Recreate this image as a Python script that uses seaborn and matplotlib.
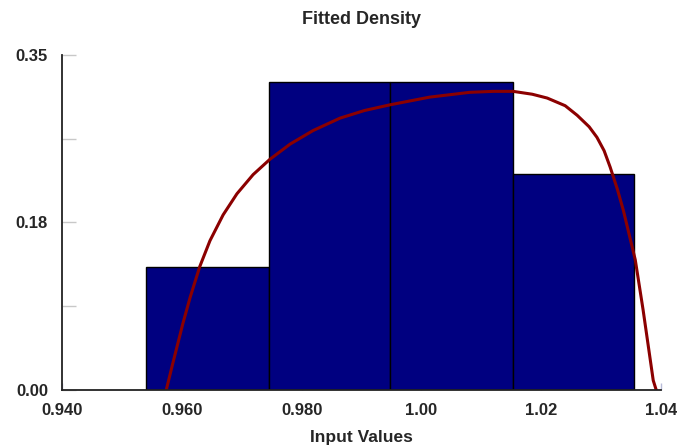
import matplotlib
matplotlib.use('Agg')
import matplotlib.pyplot as plt
import seaborn as sns
import numpy as np

# histogram bins and the share in each bin
bin_edges = [0.9541, 0.9746, 0.9948, 1.0153, 1.0355]
bar_heights = [0.128, 0.322, 0.322, 0.2254]

# fitted density curve, sampled by eye from the reference
curve_x = [0.9574, 0.9585, 0.9602, 0.9614, 0.9630, 0.9647, 0.9669, 0.9692,
           0.9719, 0.9747, 0.9781, 0.9819, 0.9864, 0.9905, 0.9948, 1.0014,
           1.0081, 1.0120, 1.0153, 1.0185, 1.0210, 1.0240, 1.0260, 1.0280,
           1.0293, 1.0305, 1.0315, 1.0327, 1.0337, 1.0357, 1.0370, 1.0387,
           1.0392]
curve_y = [0.000, 0.028, 0.070, 0.097, 0.129, 0.156, 0.183, 0.205,
           0.225, 0.241, 0.257, 0.271, 0.284, 0.292, 0.298, 0.306,
           0.311, 0.312, 0.312, 0.309, 0.305, 0.297, 0.287, 0.275,
           0.264, 0.250, 0.233, 0.210, 0.188, 0.136, 0.084, 0.010,
           0.000]

x_ticks = [0.94, 0.96, 0.98, 1.00, 1.02, 1.04]
x_tick_labels = ['0.940', '0.960', '0.980', '1.00', '1.02', '1.04']
y_ticks = [0.0, 0.175, 0.35]
y_tick_labels = ['0.00', '0.18', '0.35']
y_minor = [0.0875, 0.2625]

sns.set_style('white')
plt.rcParams['font.family'] = ['Liberation Sans', 'DejaVu Sans']
plt.rcParams['font.weight'] = 'bold'

fig = plt.figure(figsize=(6.77, 4.47), dpi=100)
ax = fig.add_axes([0.0916, 0.1275, 0.8848, 0.7495])

centers = [(a + b) / 2 for a, b in zip(bin_edges[:-1], bin_edges[1:])]
sns.histplot(x=centers, weights=bar_heights, bins=bin_edges, stat='count',
             color='#000080', edgecolor='black', linewidth=1, alpha=1, ax=ax)
sns.lineplot(x=curve_x, y=curve_y, color='#8B0000', linewidth=2.2, ax=ax)

ax.set_xlim(0.94, 1.04)
ax.set_ylim(0, 0.35)
ax.set_xticks(x_ticks)
ax.set_xticklabels(x_tick_labels, fontsize=12, fontweight='bold')
ax.set_yticks(y_ticks)
ax.set_yticklabels(y_tick_labels, fontsize=12, fontweight='bold')
ax.set_yticks(y_minor, minor=True)
ax.tick_params(axis='x', bottom=True, direction='in', length=5, width=1,
               color='#b8bcd8', pad=9)
ax.tick_params(axis='y', which='both', left=True, direction='in', length=10,
               width=1, color='#c8c8c8', pad=10)

sns.despine(ax=ax)
for s in ['left', 'bottom']:
    ax.spines[s].set_color('#222222')
    ax.spines[s].set_linewidth(1.3)

ax.set_xlabel('Input Values', fontsize=12.5, fontweight='bold', labelpad=9)
ax.set_ylabel('')
ax.set_title('Fitted Density', fontsize=13, fontweight='bold', pad=22)

fig.savefig('out.png', dpi=100)
